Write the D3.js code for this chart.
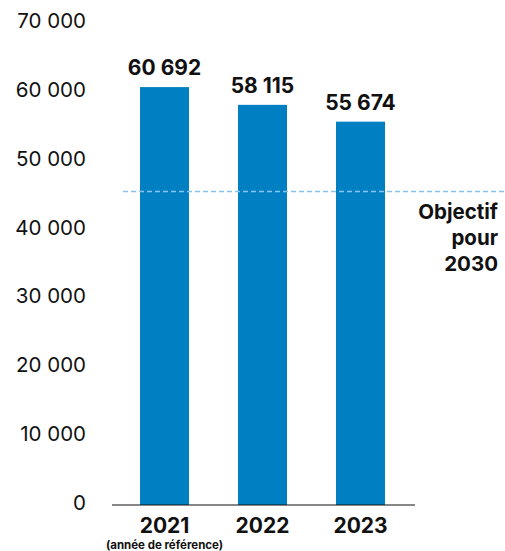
<!DOCTYPE html>
<html><head><meta charset="utf-8">
<script src="https://cdn.jsdelivr.net/npm/d3@7"></script>
<style>body{margin:0;background:#fff}svg{display:block}text{font-family:Inter,"Noto Sans",sans-serif}</style>
</head><body>
<script>
const years = ["2021","2022","2023"];
const values = [60692, 58115, 55674];
const valueLabels = ["60 692","58 115","55 674"];
const yTicks = [0,10000,20000,30000,40000,50000,60000,70000];
const yTickLabels = ["0","10 000","20 000","30 000","40 000","50 000","60 000","70 000"];
const target = 45519;
const targetLabel = ["Objectif","pour","2030"];
const subLabel = "(année de référence)";

const W=505,H=551;
const svg=d3.select("body").append("svg").attr("width",W).attr("height",H);
const y=d3.scaleLinear().domain([0,70000]).range([505,23]);
const x=d3.scaleBand().domain(years).range([115.5,409.5]).paddingInner(0.5).paddingOuter(0.25);

const yAxis=d3.axisLeft(y).tickValues(yTicks).tickFormat((d,i)=>yTickLabels[i]).tickSize(0).tickPadding(0);
const ga=svg.append("g").attr("transform","translate(86,0)").call(yAxis);
ga.select(".domain").remove();
ga.selectAll("text").attr("font-size",20.5).attr("fill","#111").attr("dy","0.32em").attr("y",-2);

svg.selectAll("rect.bar").data(values).enter().append("rect").attr("class","bar")
 .attr("x",(d,i)=>x(years[i])).attr("width",x.bandwidth())
 .attr("y",d=>y(d)).attr("height",d=>y(0)-y(d)).attr("fill","#0080c3");

svg.selectAll("text.val").data(values).enter().append("text").attr("class","val")
 .attr("x",(d,i)=>x(years[i])+x.bandwidth()/2).attr("y",d=>y(d)-12)
 .attr("text-anchor","middle").attr("font-size",21).attr("font-weight",700).attr("fill","#111")
 .text((d,i)=>valueLabels[i]);

svg.append("line").attr("x1",112).attr("x2",415).attr("y1",y(0)).attr("y2",y(0)).attr("stroke","#111").attr("stroke-width",1);

svg.append("line").attr("x1",123).attr("x2",W).attr("y1",y(target)).attr("y2",y(target))
 .attr("stroke","#86c3ee").attr("stroke-width",1.5).attr("stroke-dasharray","5,3");

const xAxis=d3.axisBottom(x).tickSize(0).tickPadding(0);
const gx=svg.append("g").attr("transform","translate(0,"+y(0)+")").call(xAxis);
gx.select(".domain").remove();
gx.selectAll("text").attr("font-size",21).attr("font-weight",700).attr("fill","#111").attr("dy",0).attr("y",28);

svg.append("text").attr("x",x("2021")+x.bandwidth()/2).attr("y",549).attr("text-anchor","middle")
 .attr("font-size",11.5).attr("font-weight",700).attr("fill","#111").text(subLabel);

svg.append("g").selectAll("text").data(targetLabel).enter().append("text")
 .attr("x",498).attr("y",(d,i)=>219+i*26).attr("text-anchor","end")
 .attr("font-size",20.5).attr("font-weight",700).attr("fill","#111").text(d=>d);
</script>
</body></html>
